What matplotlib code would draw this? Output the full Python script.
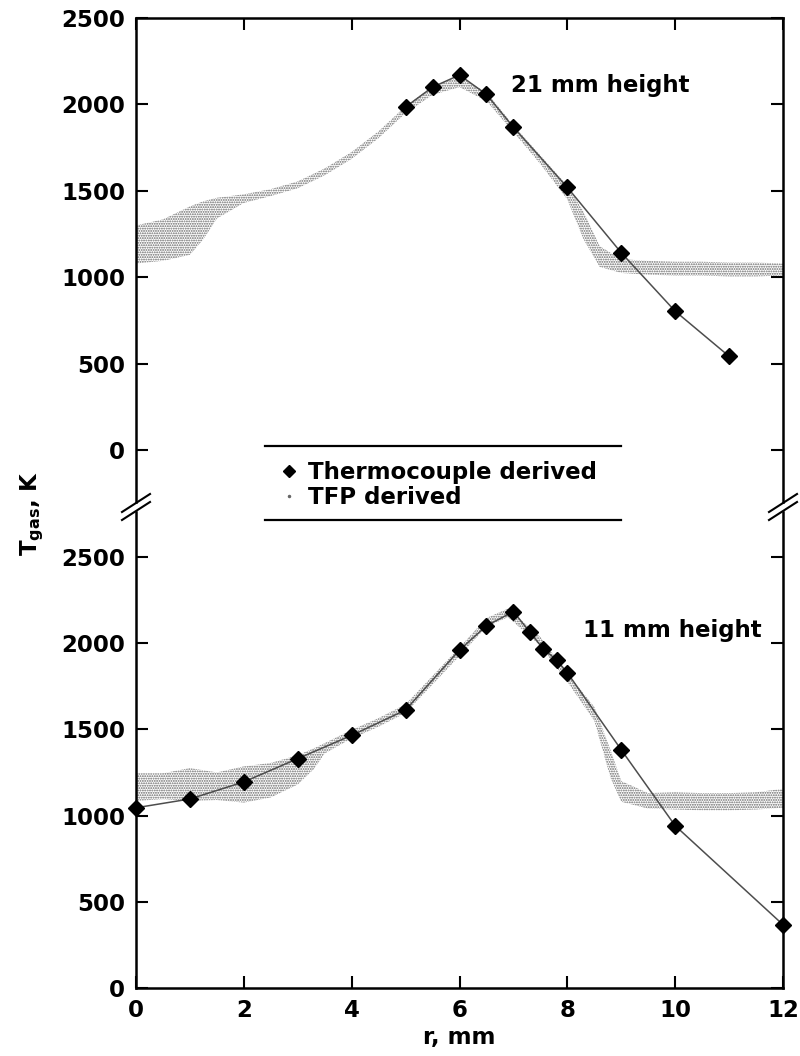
import matplotlib.pyplot as plt
from matplotlib.lines import Line2D
import numpy as np

# thermocouple derived points, 21 mm height (top panel)
tc21_r = [5, 5.5, 6, 6.5, 7, 8, 9, 10, 11]
tc21_T = [1985, 2100, 2170, 2058, 1868, 1520, 1142, 804, 543]

# thermocouple derived points, 11 mm height (bottom panel)
tc11_r = [0, 1, 2, 3, 4, 5, 6, 6.5, 7, 7.3, 7.55, 7.8, 8, 9, 10, 12]
tc11_T = [1045, 1096, 1195, 1330, 1465, 1612, 1960, 2100, 2183, 2065, 1968, 1902, 1828, 1381, 941, 367]

# TFP derived band (centre and half width), 21 mm height
tfp21_r = [0, 0.5, 1, 1.25, 1.5, 2, 2.5, 3, 3.5, 4, 4.5, 5, 5.5, 6, 6.5, 7,
           7.5, 8, 8.3, 8.6, 9, 9.5, 10, 10.5, 11, 11.5, 12]
tfp21_mid = [1190, 1215, 1270, 1330, 1400, 1455, 1490, 1535, 1610, 1705, 1825, 1970, 2080, 2130,
             2045, 1860, 1680, 1490, 1300, 1120, 1065, 1055, 1050, 1050, 1045, 1045, 1045]
tfp21_w = [110, 120, 140, 110, 60, 25, 20, 20, 20, 20, 20, 20, 25, 30,
           25, 20, 25, 40, 80, 60, 40, 40, 40, 40, 40, 40, 35]

# TFP derived band, 11 mm height
tfp11_r = [0, 0.5, 1, 1.5, 2, 2.5, 3, 3.3, 3.5, 4, 4.5, 5, 5.5, 6, 6.5, 6.9,
           7.5, 8, 8.5, 8.8, 9, 9.5, 10, 10.5, 11, 11.5, 12]
tfp11_mid = [1165, 1170, 1180, 1170, 1180, 1205, 1265, 1330, 1390, 1472, 1540, 1620, 1785, 1950,
             2120, 2175, 2010, 1800, 1590, 1300, 1140, 1085, 1085, 1080, 1080, 1085, 1100]
tfp11_w = [80, 75, 95, 80, 105, 100, 85, 60, 30, 25, 25, 25, 25, 25,
           25, 25, 25, 25, 40, 80, 60, 45, 50, 50, 50, 50, 55]

plt.rcParams['font.family'] = 'DejaVu Sans'
plt.rcParams['font.weight'] = 'bold'
plt.rcParams['font.size'] = 16.5
plt.rcParams['hatch.linewidth'] = 0.9
plt.rcParams['mathtext.default'] = 'bf'

W, H = 800, 1056
fig = plt.figure(figsize=(W / 100, H / 100), dpi=100)


def fx(px):
    return px / W


def fy(py):
    return 1 - py / H


ax1 = fig.add_axes([fx(136), fy(502), fx(783) - fx(136), fy(18) - fy(502)])
ax2 = fig.add_axes([fx(136), fy(988), fx(783) - fx(136), fy(512) - fy(988)])


def draw(ax, tr, tT, br, bmid, bw):
    mid = np.array(bmid)
    w = np.array(bw)
    ax.fill_between(br, mid - w, mid + w, facecolor='none', edgecolor='0.4',
                    hatch='.......', linewidth=0)
    ax.plot(tr, tT, '-', color='0.3', lw=1.1, marker='D', ms=8.5, mfc='k', mec='k',
            clip_on=False, zorder=3)
    ax.set_xlim(0, 12)
    ax.set_xticks([0, 2, 4, 6, 8, 10, 12])
    ax.set_yticks([0, 500, 1000, 1500, 2000, 2500])
    for s in ax.spines.values():
        s.set_linewidth(1.8)
    ax.tick_params(direction='in', length=8.5, width=1.5, pad=8,
                   left=True, right=True, labelright=False)


draw(ax1, tc21_r, tc21_T, tfp21_r, tfp21_mid, tfp21_w)
ax1.set_ylim(-300, 2500)
ax1.spines['bottom'].set_visible(False)
ax1.tick_params(top=True, bottom=False, labelbottom=False)
ax1.text(6.96, 2109, '21 mm height', va='center')

draw(ax2, tc11_r, tc11_T, tfp11_r, tfp11_mid, tfp11_w)
ax2.set_ylim(0, 2760)
ax2.spines['top'].set_visible(False)
ax2.tick_params(top=False, bottom=True)
ax2.text(8.29, 2071, '11 mm height', va='center')
ax2.set_xlabel('r, mm', fontweight='bold', labelpad=3)

fig.text(fx(32), fy(513), r'T$_{gas}$, K', rotation=90, ha='center', va='center')

# axis break marks
for sx in (136, 783):
    for cy in (503, 511):
        fig.add_artist(Line2D([fx(sx - 14), fx(sx + 14)], [fy(cy + 9), fy(cy - 9)],
                              color='k', lw=1.5))

# legend between two rules
for ly in (446, 520):
    fig.add_artist(Line2D([fx(265), fx(621)], [fy(ly), fy(ly)], color='k', lw=1.6))
handles = [Line2D([], [], ls='none', marker='D', ms=6, color='k'),
           Line2D([], [], ls='none', marker='.', ms=3, color='0.4')]
fig.legend(handles, ['Thermocouple derived', 'TFP derived'], loc='center left',
           bbox_to_anchor=(fx(280), fy(485)), frameon=False, labelspacing=0.1,
           handlelength=0.8, handletextpad=0.4, borderpad=0, borderaxespad=0)

fig.savefig('out.png', dpi=100)
